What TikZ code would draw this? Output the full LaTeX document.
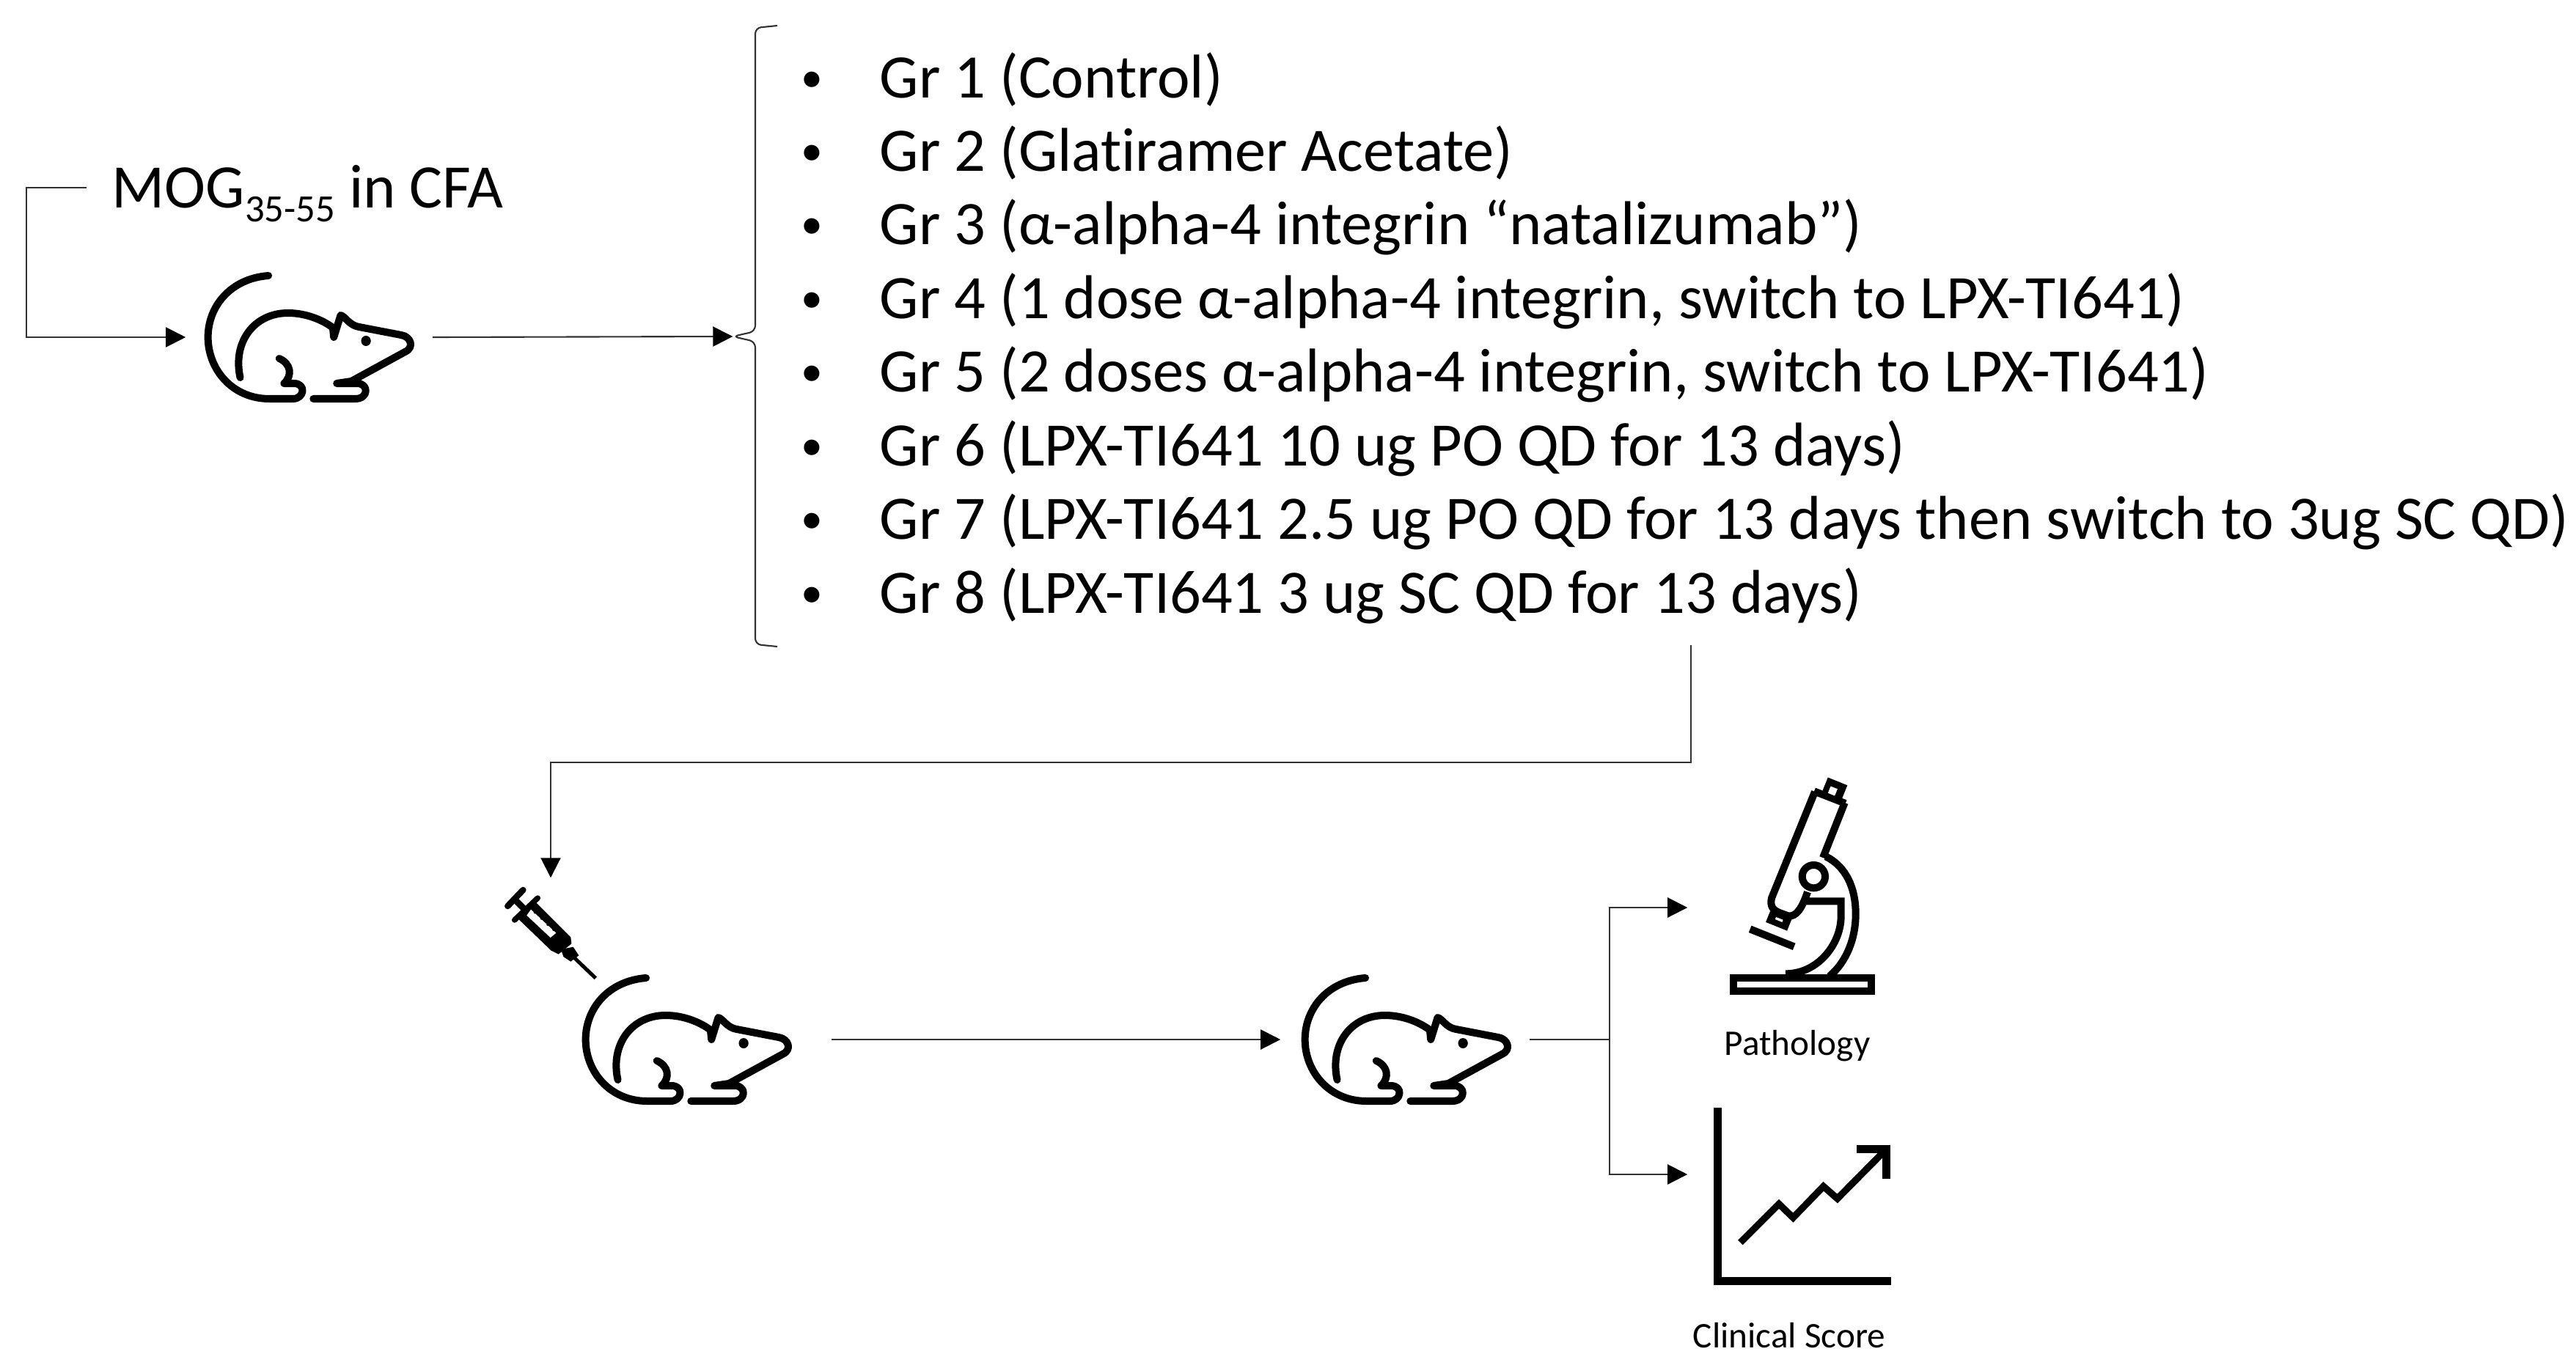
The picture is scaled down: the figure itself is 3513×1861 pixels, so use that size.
\documentclass[tikz,border=0pt]{standalone}
\usepackage{fontspec}
\setmainfont{Carlito}[Ligatures=CommonOff]
\usepackage{tikz}
\usetikzlibrary{positioning,arrows.meta,calc}
\definecolor{linegray}{RGB}{50,50,50}
\newcommand{\grb}{\makebox[1.07cm][l]{\raisebox{0.08cm}{\fontsize{17}{20}\selectfont\textbullet}}}
\tikzset{
  grline/.style={inner sep=0pt,font=\fontsize{24}{30}\selectfont,
    text height=0.66cm,text depth=0.2cm,minimum height=0.99cm},
  iconbox/.style={inner sep=0pt,minimum width=#1},
  smalllabel/.style={inner sep=0pt,font=\fontsize{14}{17}\selectfont},
  fl/.style={-{Triangle[length=2.7mm,width=2.7mm,black]},draw=linegray,line width=0.6pt},
  pl/.style={draw=linegray,line width=0.6pt},
  ratpic/.pic={
    \draw[line width=1mm,line cap=round,line join=round]
      (67,4) .. controls (28,8) and (5,46) .. (5,88) .. controls (5,132) and (30,172) .. (68,172)
      -- (92,172) .. controls (104,172) and (106,151) .. (93,151) -- (83,151)
      .. controls (92,140) and (90,124) .. (78,117);
    \draw[line width=1mm,line cap=round,line join=round]
      (38,143) .. controls (30,95) and (52,55) .. (87,55) .. controls (105,55) and (122,64) .. (133,75)
      -- (134,88) -- (141,58) .. controls (146,60) and (150,72) .. (160,74) -- (203,85)
      .. controls (213,87) and (217,102) .. (207,108) -- (152,148) -- (137,151) -- (152,151)
      -- (158,151) .. controls (170,151) and (170,172) .. (156,172) -- (113,172);
    \fill (167,93) ellipse (5 and 7);
  },
}
\begin{document}
\begin{tikzpicture}[x=0.01cm,y=-0.01cm]
  \useasboundingbox (0,0) rectangle (3513,1861);
  \fill[white] (0,0) rectangle (3513,1861);
  \node[inner sep=0pt,anchor=west,font=\fontsize{24}{30}\selectfont,text height=0.6cm,text depth=0.06cm] (mog) at (118,256)
    {\hspace{0.34cm}MOG\raisebox{-0.19cm}{\fontsize{15}{18}\selectfont 35-55} in CFA};
  % rats
  \node[iconbox=3.35cm,minimum height=1.77cm] (rat1) at (421.5,460) {};
  \pic[xscale=1.33] at (277,372) {ratpic};
  \node[iconbox=2.86cm,minimum height=1.77cm] (rat2) at (990,1418) {};
  \pic[xscale=1.33] at (792,1330) {ratpic};
  \node[iconbox=3.38cm,minimum height=1.77cm] (rat3) at (1916,1418) {};
  \pic[xscale=1.33] at (1773,1330) {ratpic};
  % groups
  \node[grline,anchor=west] (gr1) at (1092,110) {\grb Gr 1 (Control)};
  \node[grline,below=0pt of gr1.south west,anchor=north west] (gr2) {\grb Gr 2 (Glatiramer Acetate)};
  \node[grline,below=0pt of gr2.south west,anchor=north west] (gr3) {\grb Gr 3 (α-alpha-4 integrin “natalizumab”)};
  \node[grline,below=0pt of gr3.south west,anchor=north west] (gr4) {\grb Gr 4 (1 dose α-alpha-4 integrin, switch to LPX-TI641)};
  \node[grline,below=0pt of gr4.south west,anchor=north west] (gr5) {\grb Gr 5 (2 doses α-alpha-4 integrin, switch to LPX-TI641)};
  \node[grline,below=0pt of gr5.south west,anchor=north west] (gr6) {\grb Gr 6 (LPX-TI641 10 ug PO QD for 13 days)};
  \node[grline,below=0pt of gr6.south west,anchor=north west] (gr7) {\grb Gr 7 (LPX-TI641 2.5 ug PO QD for 13 days then switch to 3ug SC QD)};
  \node[grline,below=0pt of gr7.south west,anchor=north west] (gr8) {\grb Gr 8 (LPX-TI641 3 ug SC QD for 13 days)};
  % brace
  \node[inner sep=0pt,minimum width=0.6cm,minimum height=1cm] (brace) at (1030,459) {};
  \draw[pl,rounded corners=0.08cm] (1060,35) -- (1030,38) -- (1030,452) -- (brace.west) -- (1030,466) -- (1030,879) -- (1060,882);
  \coordinate (grout) at (2306,880);
  % syringe
  \node[iconbox=1.3cm,minimum height=1.52cm] (syr) at (751,1274) {};
  \begin{scope}[shift={(650,1150)},scale=1/3]
    \draw[line width=0.85mm,line cap=round] (127,258) -- (190,192);
    \draw[line width=0.75mm,line cap=round] (155,315) -- (250,225);
    \draw[line width=0.85mm] (160,235) -- (200,275);
    \fill (240,240) -- (385,385) -- (388,412) -- (335,455) -- (305,440) -- (170,310) -- cycle;
    \fill (345,435) -- (395,425) -- (418,460) -- (385,485) -- (355,465) -- cycle;
    \draw[line width=0.5mm] (395,465) -- (487,553);
    \fill[white] (222,272) -- (325,368) -- (302,387) -- (205,296) -- cycle;
    \foreach \tx/\ty in {235/287,262/312,288/337,312/358}
      \draw[line width=0.25mm] (\tx,\ty) -- ++(9,-9);
  \end{scope}
  % microscope
  \node[iconbox=2.7cm,minimum height=3.6cm] (micro) at (2437,1238) {};
  \begin{scope}[shift={(2250,1020)},scale=1/3,line width=1mm]
    \draw (341,942) rectangle (907,996);
    \draw (672,178) -- (800,228);
    \fill[rotate around={-22:(755,170)}] (712,135) rectangle (798,205);
    \fill[white,rotate around={-22:(748,177)}] (733,162) rectangle (763,192);
    \draw (797,225) -- (708,450);
    \draw (675,180) -- (498,615) .. controls (490,650) and (505,665) .. (530,675) -- (565,688) .. controls (600,695) and (625,650) .. (645,590);
    \fill[rotate around={-22:(527,708)}] (480,683) rectangle (574,733);
    \fill[white,rotate around={-22:(528,703)}] (513,698) rectangle (544,708);
    \fill[white] (670,527) circle (47);
    \draw (670,527) circle (47);
    \draw (720,445) .. controls (800,485) and (842,570) .. (842,680) .. controls (842,780) and (805,875) .. (735,935);
    \draw (640,628) -- (782,628) -- (782,690) .. controls (782,800) and (690,925) .. (555,925);
    \draw (410,742) -- (590,814);
  \end{scope}
  \node[smalllabel] (pathlab) at (2451,1427) {Pathology};
  % chart
  \node[iconbox=2.7cm,minimum height=3cm] (chart) at (2437,1602) {};
  \begin{scope}[shift={(2250,1480)},scale=1/3]
    \draw[line width=1.1mm] (278,92) -- (278,802) -- (986,802);
    \draw[line width=0.93mm] (370,645) -- (528,487) -- (586,543) -- (710,415) -- (767,465) -- (960,270);
    \draw[line width=1.1mm] (845,262) -- (968,262) -- (968,383);
  \end{scope}
  \node[smalllabel] (scorelab) at (2440,1822) {Clinical Score};
  % connectors
  \coordinate (bendA) at (36,256);
  \coordinate (bendB) at (2306,1040);
  \coordinate (split) at (2195,1418);
  \draw[fl] (mog.west) -- (bendA) |- (rat1.west);
  \draw[fl] (rat1.east) -- (brace.west);
  \draw[fl] (grout) -- (bendB) -| (syr.north);
  \draw[fl] (rat2.east) -- (rat3.west);
  \draw[pl] (rat3.east) -- (split);
  \draw[fl] (split) |- (micro.west);
  \draw[fl] (split) |- (chart.west);
\end{tikzpicture}
\end{document}
